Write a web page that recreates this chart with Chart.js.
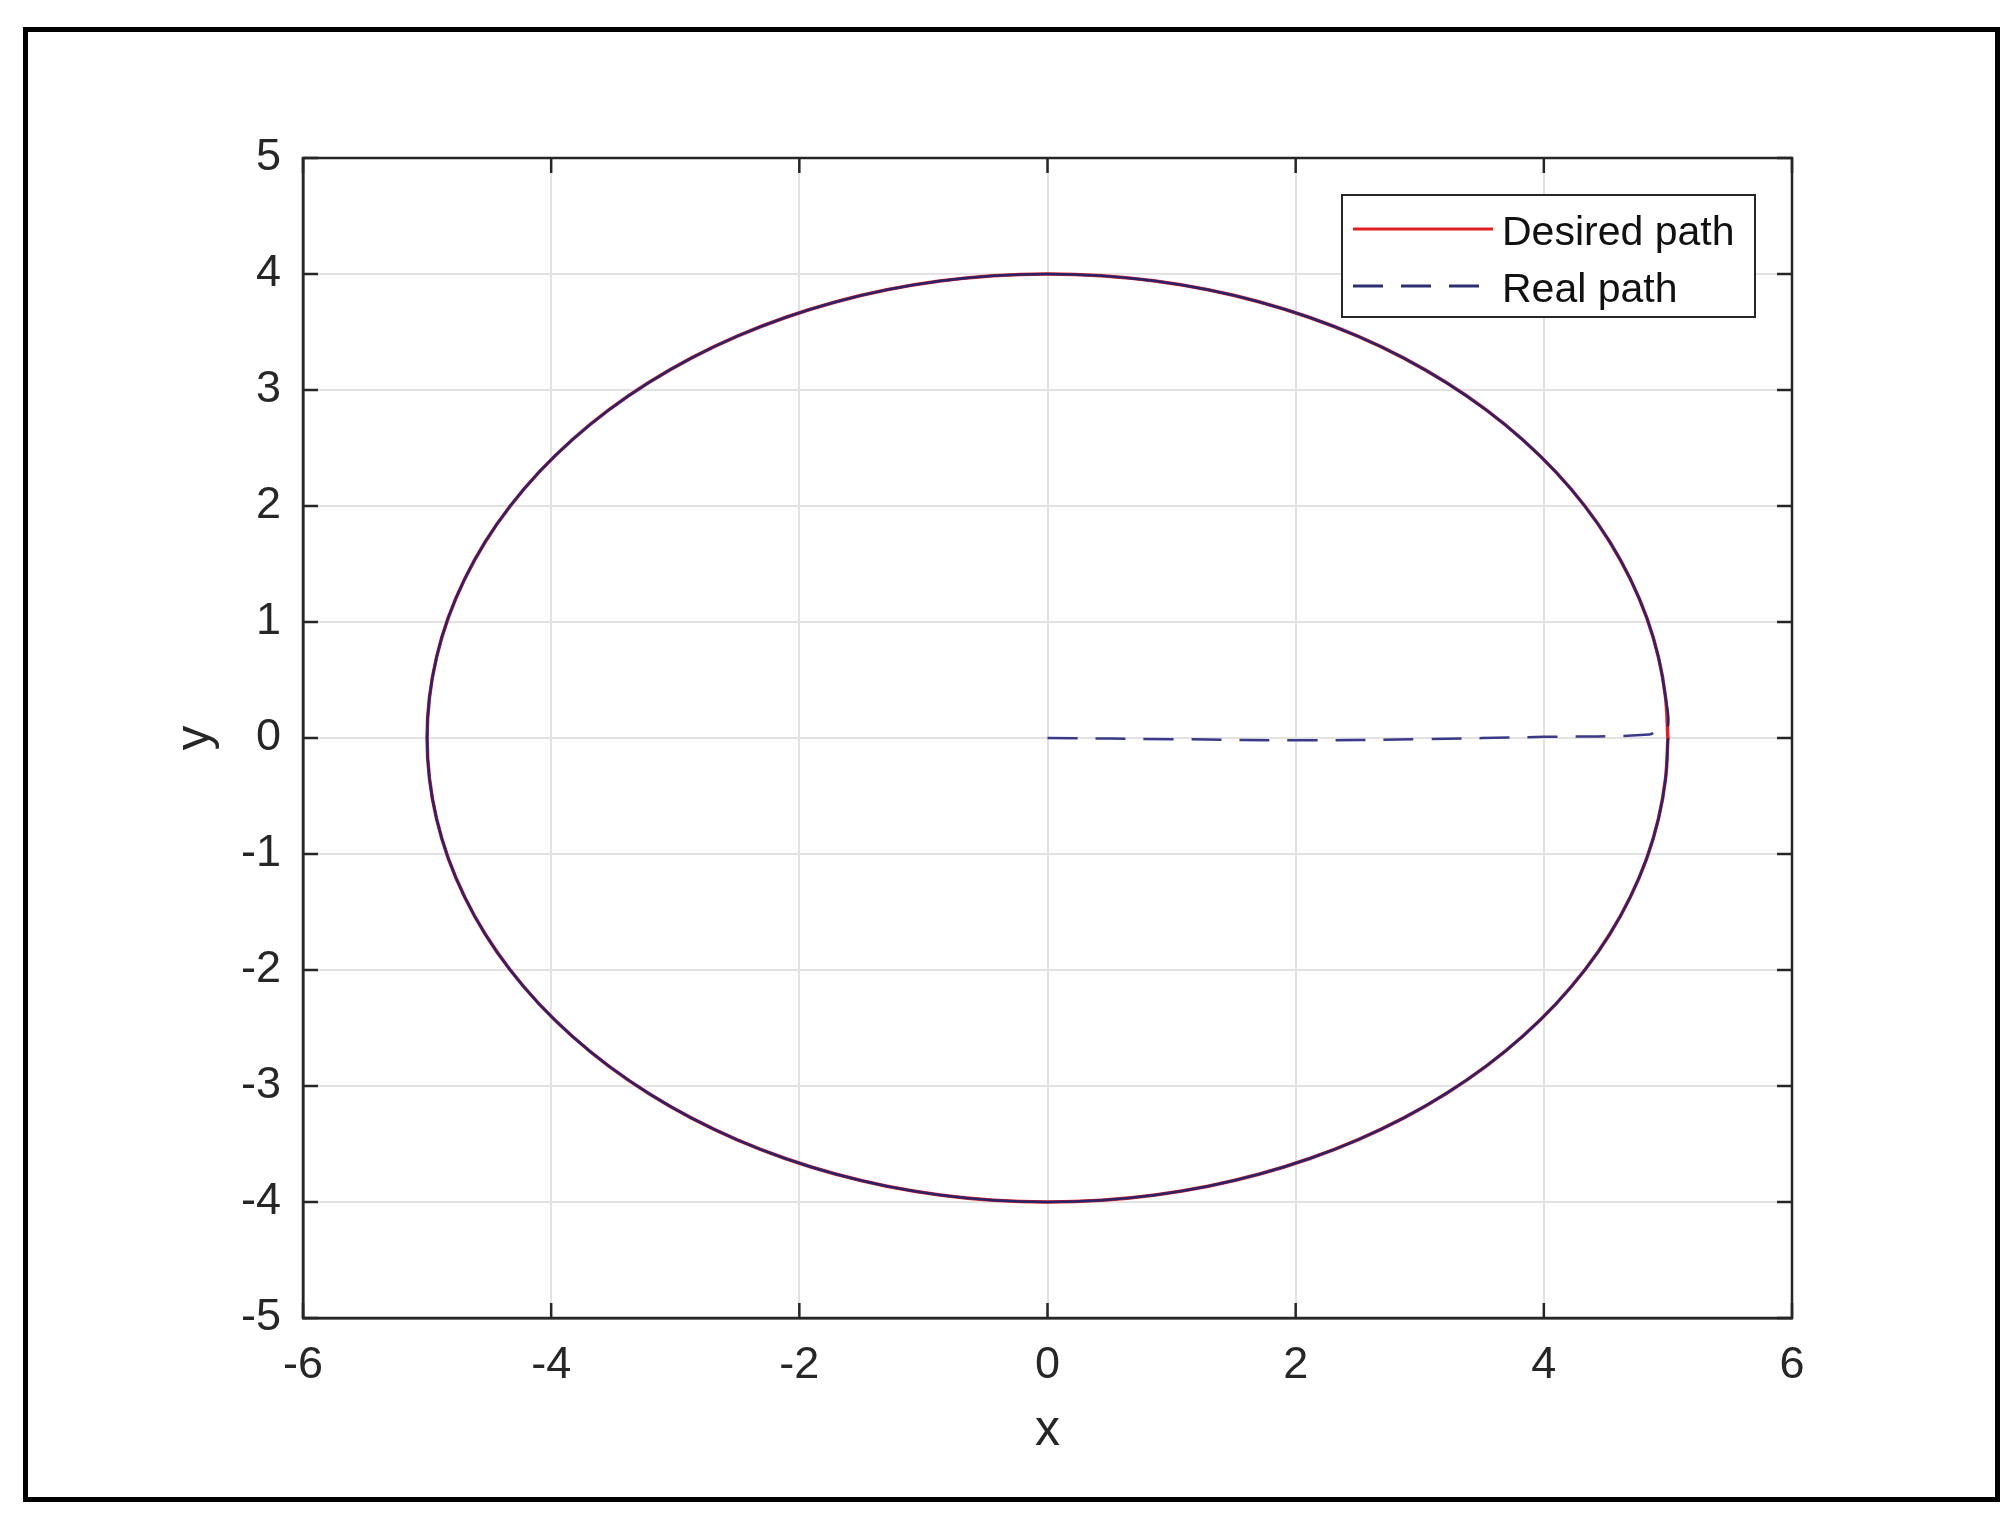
<!DOCTYPE html>
<html>
<head>
<meta charset="utf-8">
<script src="https://cdn.jsdelivr.net/npm/chart.js@4.4.1/dist/chart.umd.min.js"></script>
<style>
  html, body { margin: 0; padding: 0; background: #fff; }
  #wrap { position: relative; width: 2015px; height: 1524px; }
  #frame { position: absolute; left: 23px; top: 27px; width: 1977px; height: 1475px;
           border: 5px solid #000; box-sizing: border-box; pointer-events: none; }
</style>
</head>
<body>
<div id="wrap">
  <canvas id="chart" width="2015" height="1524"></canvas>
  <div id="frame"></div>
</div>
<script>
'use strict';

// desired path (ellipse)
let desiredX = [5.000, 4.981, 4.924, 4.830, 4.698, 4.532, 4.330, 4.096, 3.830, 3.536, 3.214, 2.868, 2.500,
  2.113, 1.710, 1.294, 0.868, 0.436, 0.000, -0.436, -0.868, -1.294, -1.710, -2.113, -2.500, -2.868,
  -3.214, -3.536, -3.830, -4.096, -4.330, -4.532, -4.698, -4.830, -4.924, -4.981, -5.000, -4.981,
  -4.924, -4.830, -4.698, -4.532, -4.330, -4.096, -3.830, -3.536, -3.214, -2.868, -2.500, -2.113,
  -1.710, -1.294, -0.868, -0.436, 0.000, 0.436, 0.868, 1.294, 1.710, 2.113, 2.500, 2.868, 3.214,
  3.536, 3.830, 4.096, 4.330, 4.532, 4.698, 4.830, 4.924, 4.981, 5.000];
let desiredY = [0.000, 0.349, 0.695, 1.035, 1.368, 1.690, 2.000, 2.294, 2.571, 2.828, 3.064, 3.277, 3.464,
  3.625, 3.759, 3.864, 3.939, 3.985, 4.000, 3.985, 3.939, 3.864, 3.759, 3.625, 3.464, 3.277, 3.064,
  2.828, 2.571, 2.294, 2.000, 1.690, 1.368, 1.035, 0.695, 0.349, 0.000, -0.349, -0.695, -1.035,
  -1.368, -1.690, -2.000, -2.294, -2.571, -2.828, -3.064, -3.277, -3.464, -3.625, -3.759, -3.864,
  -3.939, -3.985, -4.000, -3.985, -3.939, -3.864, -3.759, -3.625, -3.464, -3.277, -3.064, -2.828,
  -2.571, -2.294, -2.000, -1.690, -1.368, -1.035, -0.695, -0.349, 0.000];

// real path: approach from the origin, then it follows the ellipse
let approachX = [0, 1, 2, 3, 4, 4.85, 4.93, 5.0];
let approachY = [0, -0.01, -0.02, -0.01, 0.01, 0.03, 0.08, 0.1];

let xTicks = [-6, -4, -2, 0, 2, 4, 6];
let yTicks = [-5, -4, -3, -2, -1, 0, 1, 2, 3, 4, 5];
let seriesNames = ['Desired path', 'Real path'];

let realX = approachX.concat(desiredX.slice(1));
let realY = approachY.concat(desiredY.slice(1));

const AXIS = '#262626';
const DASH = [30, 18];

Chart.defaults.font.family = '"Liberation Sans", Arial, sans-serif';
Chart.defaults.color = AXIS;

// box, inward ticks and legend box like the original figure
let figureDecor = {
  id: 'figureDecor',
  afterDatasetsDraw(chart) {
    let { ctx, chartArea: a, scales: { x, y } } = chart;
    ctx.save();
    ctx.strokeStyle = AXIS;
    ctx.lineWidth = 2.5;
    ctx.strokeRect(a.left, a.top, a.right - a.left, a.bottom - a.top);
    let len = 15;
    ctx.beginPath();
    xTicks.forEach(v => {
      let px = x.getPixelForValue(v);
      ctx.moveTo(px, a.bottom); ctx.lineTo(px, a.bottom - len);
      ctx.moveTo(px, a.top); ctx.lineTo(px, a.top + len);
    });
    yTicks.forEach(v => {
      let py = y.getPixelForValue(v);
      ctx.moveTo(a.left, py); ctx.lineTo(a.left + len, py);
      ctx.moveTo(a.right, py); ctx.lineTo(a.right - len, py);
    });
    ctx.stroke();

    // legend
    let bw = 413, bh = 122;
    let bx = a.right - 37 - bw, by = a.top + 37;
    ctx.fillStyle = '#fff';
    ctx.fillRect(bx, by, bw, bh);
    ctx.lineWidth = 2;
    ctx.strokeRect(bx, by, bw, bh);
    ctx.font = '41px "Liberation Sans", Arial, sans-serif';
    ctx.textBaseline = 'alphabetic';
    ctx.textAlign = 'left';
    chart.data.datasets.forEach((ds, i) => {
      let ly = by + 34 + i * 57;
      ctx.beginPath();
      ctx.strokeStyle = ds.legendColor;
      ctx.lineWidth = 3;
      ctx.setLineDash(i === 1 ? DASH : []);
      ctx.moveTo(bx + 11, ly);
      ctx.lineTo(bx + 151, ly);
      ctx.stroke();
      ctx.setLineDash([]);
      ctx.fillStyle = '#111';
      ctx.fillText(ds.label, bx + 160, ly + 16);
    });
    ctx.restore();
  }
};

let data = {
  datasets: [{
    label: seriesNames[0],
    data: desiredX.map((v, i) => ({ x: v, y: desiredY[i] })),
    borderColor: '#e02020',
    legendColor: '#e02020',
    borderWidth: 3.5,
    showLine: true,
    pointRadius: 0,
    tension: 0.4,
    order: 1
  }, {
    label: seriesNames[1],
    data: realX.map((v, i) => ({ x: v, y: realY[i] })),
    borderColor: '#2b226c',
    legendColor: '#2a3070',
    borderWidth: 2.5,
    showLine: true,
    pointRadius: 0,
    tension: 0.4,
    order: 0,
    segment: {
      borderDash: ctx => ctx.p0DataIndex < approachX.length - 1 ? DASH : undefined,
      borderColor: ctx => ctx.p0DataIndex < approachX.length - 1 ? '#3a3a88' : undefined
    }
  }]
};

let config = {
  type: 'scatter',
  data: data,
  options: {
    responsive: false,
    animation: false,
    layout: { padding: { top: 158, right: 223, left: 0, bottom: 0 } },
    plugins: { legend: { display: false }, tooltip: { enabled: false } },
    scales: {
      x: {
        type: 'linear',
        min: -6, max: 6,
        afterBuildTicks: scale => { scale.ticks = xTicks.map(v => ({ value: v })); },
        afterFit: scale => { scale.height = 206; },
        grid: { color: '#e2e2e2', lineWidth: 2, drawTicks: false },
        border: { color: AXIS, width: 2.5 },
        ticks: { font: { size: 45 }, padding: 21, maxRotation: 0 },
        title: { display: true, text: 'x', font: { size: 50 }, padding: { top: 0, bottom: 63 } }
      },
      y: {
        type: 'linear',
        min: -5, max: 5,
        afterBuildTicks: scale => { scale.ticks = yTicks.map(v => ({ value: v })); },
        afterFit: scale => { scale.width = 303; },
        grid: { color: '#e2e2e2', lineWidth: 2, drawTicks: false },
        border: { color: AXIS, width: 2.5 },
        ticks: { font: { size: 45 }, padding: 22 },
        title: { display: true, text: 'y', font: { size: 49 }, padding: { top: 166, bottom: 0 } }
      }
    }
  },
  plugins: [figureDecor]
};

let myChart = new Chart(document.getElementById('chart'), config);
</script>
</body>
</html>
